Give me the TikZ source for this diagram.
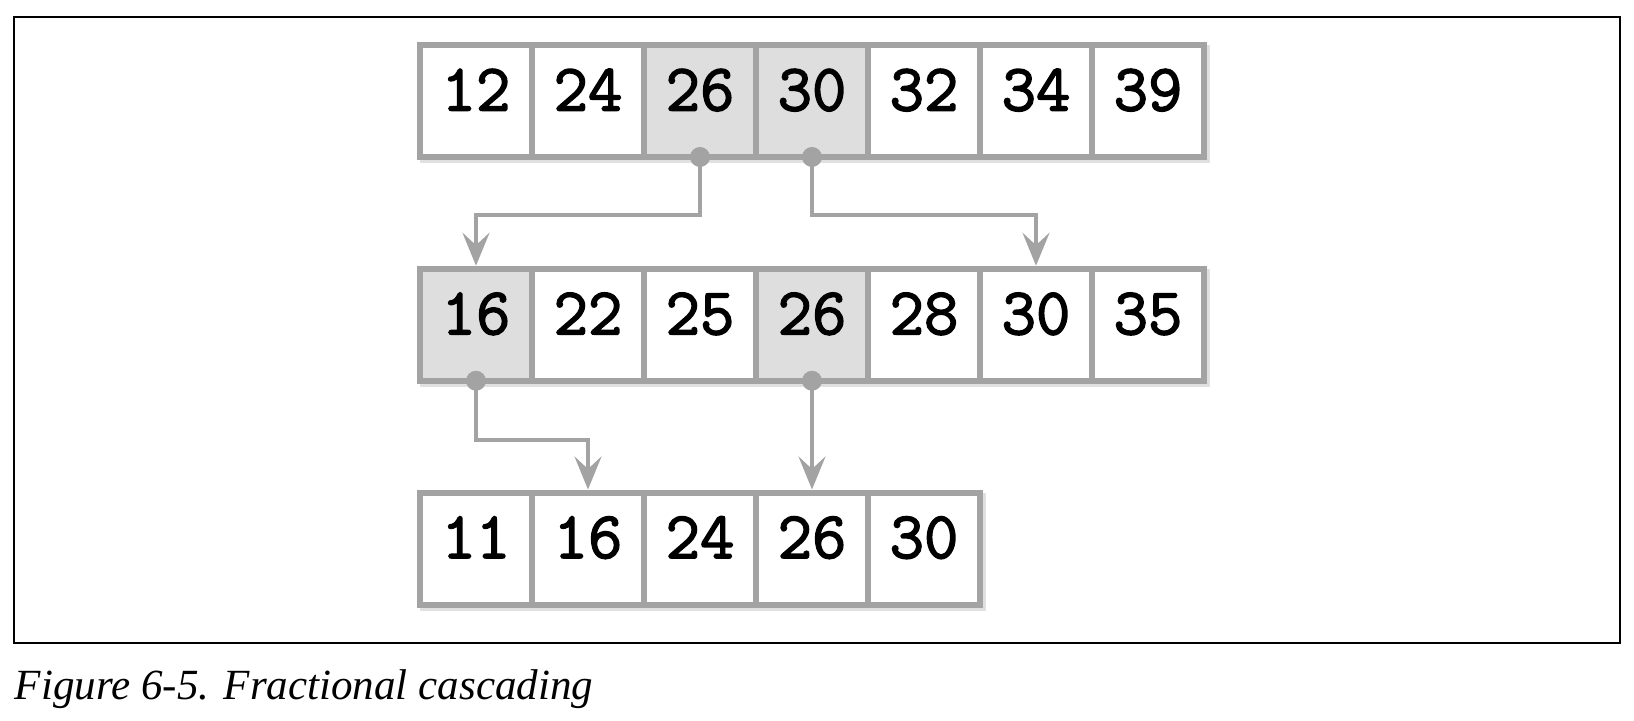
\documentclass[tikz,border=0pt]{standalone}
\usepackage{fontspec}
\usepackage{xcolor}
\usepackage{tikz}
\usetikzlibrary{arrows.meta,positioning,backgrounds}
\newfontfamily\cellfont{Latin Modern Mono}[FakeBold=2.2]
\newfontfamily\capfont{Liberation Serif}
\definecolor{cellgray}{HTML}{A3A3A3}
\definecolor{cellshade}{HTML}{DEDEDE}

\begin{document}
\begin{tikzpicture}[
  cell/.style={draw=cellgray, line width=0.12cm, fill=white, minimum width=2.24cm,
    minimum height=2.24cm, inner sep=0pt, text depth=0.45cm,
    font=\cellfont\fontsize{38}{44}\selectfont},
  hit/.style={cell, fill=cellshade},
  link/.style={draw=cellgray, line width=0.08cm,
    -{Stealth[length=0.66cm, width=0.54cm, inset=0.25cm]}},
  dot/.style={circle, fill=cellgray, inner sep=0pt, minimum size=0.4cm},
  rowshadow/.style={fill=black, opacity=0.12}
]
\useasboundingbox (0,0) rectangle (32.68,14.4);
% figure frame
\draw[line width=0.7pt] (0.28,1.54) rectangle (32.4,14.06);
% top list
\foreach \v/\s [count=\i] in {12/cell,24/cell,26/hit,30/hit,32/cell,34/cell,39/cell}
  \node[\s] (t\i) at ({7.28+2.24*\i},12.38) {\v};
% middle list
\foreach \v/\s [count=\i] in {16/hit,22/cell,25/cell,26/hit,28/cell,30/cell,35/cell}
  \node[\s] (m\i) at ({7.28+2.24*\i},7.905) {\v};
% bottom list
\foreach \v [count=\i] in {11,16,24,26,30}
  \node[cell] (b\i) at ({7.28+2.24*\i},3.43) {\v};
% shadows under the lists
\begin{scope}[on background layer]
\foreach \a/\b in {t1/t7,m1/m7,b1/b5}
  \fill[rowshadow] ([shift={(0.06,-0.07)}]\a.south west) rectangle ([shift={(0.06,-0.07)}]\b.north east);
\end{scope}
% cascading pointers
\draw[link] (t3.south) -- ++(0,-1.1) -| (m1.north);
\draw[link] (t4.south) -- ++(0,-1.1) -| (m6.north);
\draw[link] (m1.south) -- ++(0,-1.12) -| (b2.north);
\draw[link] (m4.south) -- (b4.north);
\foreach \n in {t3,t4,m1,m4}
  \node[dot] at ([yshift=0.06cm]\n.south) {};
% caption
\node[anchor=base west, inner sep=0pt, font=\capfont\itshape\fontsize{24.5}{30}\selectfont]
  (cap) at (0.29,0.42) {Figure 6-5. Fractional cascading};
\end{tikzpicture}
\end{document}
